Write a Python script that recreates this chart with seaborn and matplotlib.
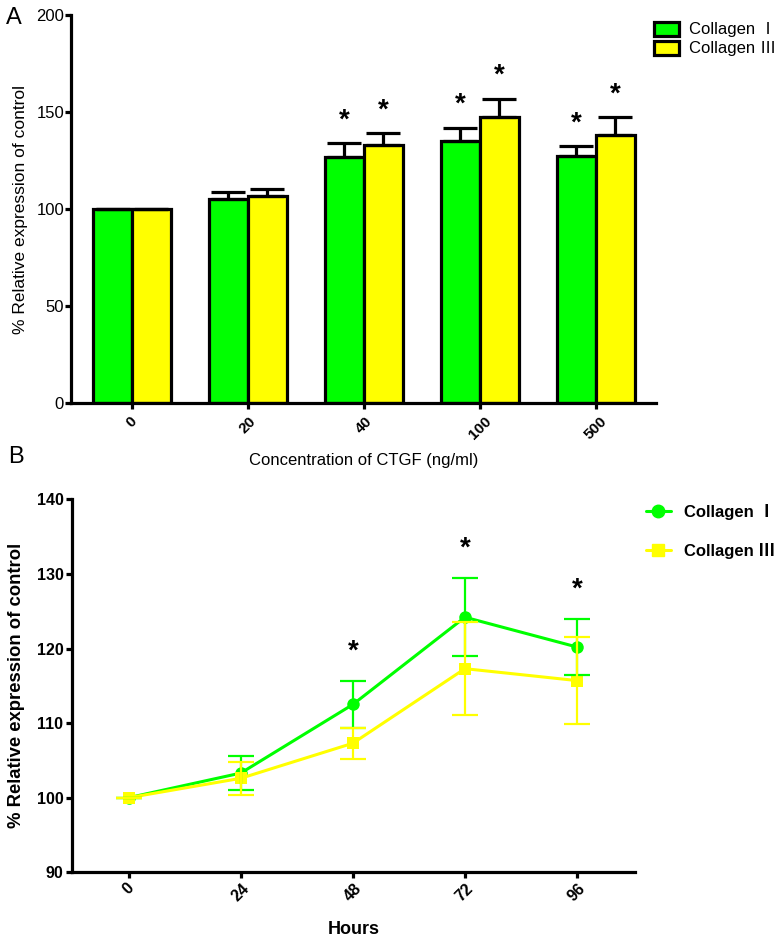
import numpy as np
import pandas as pd
import seaborn as sns
import matplotlib.pyplot as plt
from matplotlib.patches import Patch
from matplotlib.lines import Line2D

# panel A data: collagen expression vs CTGF concentration
conc = ["0", "20", "40", "100", "500"]
col1_mean = [100, 105, 127, 135, 127.5]
col1_err = [0, 4, 7, 7, 5]
col3_mean = [100, 107, 133, 147.4, 138]
col3_err = [0, 3.5, 6, 9.6, 9.4]
col1_star = [False, False, True, True, True]
col3_star = [False, False, True, True, True]

# panel B data: time course at fixed dose
hours = [0, 24, 48, 72, 96]
t_col1 = [100, 103.3, 112.5, 124.2, 120.2]
t_col1_err = [0, 2.3, 3.2, 5.2, 3.7]
t_col3 = [100, 102.6, 107.3, 117.3, 115.7]
t_col3_err = [0, 2.2, 2.1, 6.2, 5.8]
t_star = [False, False, True, True, True]

lab1 = "Collagen Ⅰ"
lab3 = "Collagen Ⅲ"
GREEN = "#00ff00"
YELLOW = "#ffff00"

sns.set_style("ticks")
plt.rcParams["font.family"] = ["Liberation Sans", "Noto Sans CJK SC", "DejaVu Sans"]
for k in ["text.color", "axes.labelcolor", "xtick.color", "ytick.color", "axes.edgecolor"]:
    plt.rcParams[k] = "black"
plt.rcParams["axes.linewidth"] = 2.3
plt.rcParams["xtick.major.width"] = 2.3
plt.rcParams["ytick.major.width"] = 2.3
plt.rcParams["xtick.major.size"] = 4
plt.rcParams["ytick.major.size"] = 4

fig = plt.figure(figsize=(7.8, 9.44), dpi=100)

# ---------- A ----------
axA = fig.add_axes([0.091, 0.573, 0.75, 0.411])
dfA = pd.DataFrame({
    "conc": conc * 2,
    "value": col1_mean + col3_mean,
    "type": [lab1] * 5 + [lab3] * 5,
})
sns.barplot(data=dfA, x="conc", y="value", hue="type", order=conc,
            palette=[GREEN, YELLOW], saturation=1, width=0.67, gap=0, errorbar=None,
            edgecolor="black", linewidth=2.3, legend=False, ax=axA)

for cont, means, errs, stars in zip(axA.containers, [col1_mean, col3_mean],
                                    [col1_err, col3_err], [col1_star, col3_star]):
    xs = [b.get_x() + b.get_width() / 2 for b in cont]
    axA.errorbar(xs, means, yerr=[np.zeros(len(errs)), errs], fmt="none",
                 ecolor="black", elinewidth=2.3, capsize=12, capthick=2.3, zorder=1)
    for x, m, e, s in zip(xs, means, errs, stars):
        if s:
            axA.text(x, m + e + 5, "*", ha="center", va="bottom",
                     fontsize=20, fontweight="bold")

axA.set_ylim(0, 200)
axA.set_yticks([0, 50, 100, 150, 200])
axA.set_xlim(-0.526, 4.52)
sns.despine(ax=axA)
axA.tick_params(axis="y", labelsize=12, pad=1)
axA.tick_params(axis="x", labelsize=11, pad=4)
for t in axA.get_xticklabels():
    t.set_fontweight("bold")
plt.setp(axA.get_xticklabels(), rotation=45, ha="center", va="top")
axA.set_xlabel("Concentration of CTGF (ng/ml)", fontsize=12, labelpad=8)
axA.set_ylabel("% Relative expression of control", fontsize=12.5, labelpad=6)
axA.legend(handles=[Patch(facecolor=GREEN, edgecolor="black", linewidth=2.3, label=lab1),
                    Patch(facecolor=YELLOW, edgecolor="black", linewidth=2.3, label=lab3)],
           loc="upper left", bbox_to_anchor=(0.838, 0.977), bbox_transform=fig.transFigure,
           frameon=False, fontsize=12, handlelength=1.5, handleheight=0.9,
           handletextpad=0.6, labelspacing=0.2, borderpad=0, borderaxespad=0)
fig.text(0.008, 0.981, "A", fontsize=17, va="center")

# ---------- B ----------
axB = fig.add_axes([0.092, 0.076, 0.722, 0.395])
dfB = pd.DataFrame({
    "hours": hours * 2,
    "value": t_col1 + t_col3,
    "type": [lab1] * 5 + [lab3] * 5,
})
sns.lineplot(data=dfB, x="hours", y="value", hue="type", style="type",
             palette=[GREEN, YELLOW], markers=["o", "s"], dashes=False,
             markersize=9, markeredgewidth=0, linewidth=2.2, legend=False, ax=axB)
for means, errs, c in [(t_col1, t_col1_err, GREEN), (t_col3, t_col3_err, YELLOW)]:
    axB.errorbar(hours, means, yerr=errs, fmt="none", ecolor=c,
                 elinewidth=1.6, capsize=9.5, capthick=1.6)

for h, m1, e1, m3, e3, s in zip(hours, t_col1, t_col1_err, t_col3, t_col3_err, t_star):
    if s:
        top = max(m1 + e1, m3 + e3)
        axB.text(h, top + 2.2, "*", ha="center", va="bottom",
                 fontsize=20, fontweight="bold")

axB.set_ylim(90, 140)
axB.set_yticks([90, 100, 110, 120, 130, 140])
axB.set_xlim(-12.2, 108.4)
axB.set_xticks(hours)
sns.despine(ax=axB)
axB.tick_params(axis="both", labelsize=11.5, pad=2)
for t in axB.get_xticklabels() + axB.get_yticklabels():
    t.set_fontweight("bold")
plt.setp(axB.get_xticklabels(), rotation=45, ha="center", va="top")
axB.set_xlabel("Hours", fontsize=13, fontweight="bold", labelpad=12)
axB.set_ylabel("% Relative expression of control", fontsize=13.3, fontweight="bold", labelpad=8)
axB.legend(handles=[Line2D([], [], color=GREEN, marker="o", markersize=9, lw=2.2, label=lab1),
                    Line2D([], [], color=YELLOW, marker="s", markersize=9, lw=2.2, label=lab3)],
           loc="upper left", bbox_to_anchor=(0.828, 0.466), bbox_transform=fig.transFigure,
           frameon=False, prop={"size": 12, "weight": "bold"}, handlelength=1.5,
           handletextpad=0.8, labelspacing=1.35, borderpad=0, borderaxespad=0)
fig.text(0.01, 0.516, "B", fontsize=17, va="center")

fig.savefig("out.png", dpi=100)
